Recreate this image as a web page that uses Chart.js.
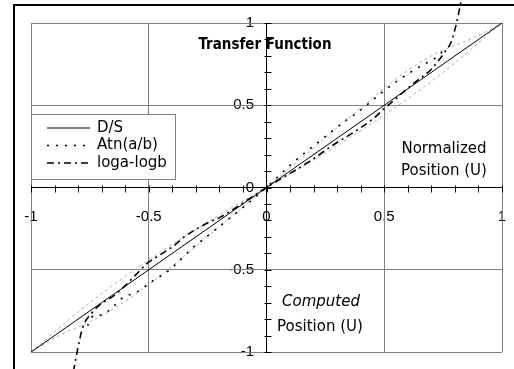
<!DOCTYPE html>
<html>
<head>
<meta charset="utf-8">
<title>Transfer Function</title>
<script src="https://cdn.jsdelivr.net/npm/chart.js@4/dist/chart.umd.min.js"></script>
<style>
	html, body { margin: 0; padding: 0; background: #fff; }
	#wrap { width: 514px; height: 369px; }
</style>
</head>
<body>
<div id="wrap"><canvas id="transferChart" width="514" height="369"></canvas></div>
<script>
// axis ticks
const tickValues = [-1, -0.5, 0, 0.5, 1];
const tickLabels = ['-1', '-0.5', '0', '0.5', '1'];

// D/S
const dsX = [-1, 1];
const dsY = [-1, 1];

// Atn(a/b)
const atnX = [-0.76, -0.736, -0.70, -0.655, -0.61, -0.55, -0.48, -0.42, -0.30, -0.255, -0.16, -0.09, 0, 0.10, 0.25, 0.33, 0.39, 0.45, 0.50, 0.65, 0.72, 0.75];
const atnY = [-0.84, -0.78, -0.775, -0.73, -0.67, -0.635, -0.565, -0.51, -0.35, -0.30, -0.19, -0.11, 0, 0.135, 0.31, 0.40, 0.46, 0.53, 0.59, 0.735, 0.79, 0.83];

// loga-logb
const logX = [-0.82, -0.80, -0.78, -0.74, -0.70, -0.65, -0.61, -0.557, -0.506, -0.447, -0.396, -0.345, -0.247, -0.196, 0, 0.18, 0.285, 0.375, 0.455, 0.50, 0.55, 0.583, 0.634, 0.698, 0.73, 0.76, 0.783, 0.80, 0.813, 0.83];
const logY = [-1.12, -0.97, -0.85, -0.76, -0.705, -0.66, -0.61, -0.534, -0.46, -0.405, -0.357, -0.296, -0.213, -0.18, 0, 0.156, 0.26, 0.34, 0.42, 0.48, 0.54, 0.583, 0.643, 0.716, 0.77, 0.83, 0.88, 0.96, 1.04, 1.16];

// reference curves (grey, not in legend)
const refAX = [-1, -0.88, -0.70, -0.50, -0.42, -0.08, 0, 0.43, 0.53, 0.70, 0.91, 1];
const refAY = [-1, -0.90, -0.78, -0.59, -0.50, -0.095, 0, 0.52, 0.64, 0.80, 0.93, 1];
const refBX = [-1, -0.75, -0.50, -0.25, 0, 0.25, 0.50, 0.75, 1];
const refBY = [-1, -0.70, -0.44, -0.21, 0, 0.21, 0.44, 0.70, 1];

const toPoints = (xs, ys) => xs.map((x, i) => ({ x: x, y: ys[i] }));

const tickFont = { family: '"Liberation Sans", Arial, sans-serif', size: 15 };
const textFont = '"DejaVu Sans", "Noto Sans", sans-serif';

function isMajor(v) {
	return tickValues.some(t => Math.abs(t - v) < 1e-9);
}

function labelFor(v) {
	const i = tickValues.findIndex(t => Math.abs(t - v) < 1e-9);
	return i >= 0 ? tickLabels[i] : '';
}

function gridColor(ctx) {
	if (!ctx.tick) return 'transparent';
	const v = ctx.tick.value;
	if (Math.abs(v) < 1e-9) return '#000';
	return isMajor(v) ? '#808080' : 'transparent';
}

// frame, cross-shaped tick marks, title, notes and legend box
const decorations = {
	id: 'decorations',
	beforeDraw(chart) {
		const ctx = chart.ctx;
		ctx.save();
		ctx.fillStyle = '#fff';
		ctx.fillRect(0, 0, chart.width, chart.height);
		ctx.strokeStyle = '#000';
		ctx.lineWidth = 2;
		ctx.strokeRect(14, 5, 700, 700);
		ctx.restore();
	},
	afterDraw(chart) {
		const ctx = chart.ctx;
		const xs = chart.scales.x;
		const ys = chart.scales.y;
		const x0 = Math.round(xs.getPixelForValue(0)) + 0.5;
		const y0 = Math.round(ys.getPixelForValue(0)) + 0.5;

		ctx.save();
		ctx.strokeStyle = '#000';
		ctx.lineWidth = 1;
		ctx.beginPath();
		xs.ticks.forEach(t => {
			const px = Math.round(xs.getPixelForValue(t.value)) + 0.5;
			ctx.moveTo(px, y0 - 3);
			ctx.lineTo(px, y0 + 4);
		});
		ys.ticks.forEach(t => {
			const py = Math.round(ys.getPixelForValue(t.value)) + 0.5;
			ctx.moveTo(x0 - 3, py);
			ctx.lineTo(x0 + 4, py);
		});
		ctx.stroke();

		ctx.fillStyle = '#000';
		ctx.textBaseline = 'middle';
		ctx.textAlign = 'center';
		ctx.font = 'bold 15px "DejaVu Sans Condensed", ' + textFont;
		ctx.fillText('Transfer Function', 265, 45);

		ctx.font = '15px ' + textFont;
		ctx.fillText('Normalized', 444, 149);
		ctx.fillText('Position (U)', 444, 171);
		ctx.fillText('Position (U)', 320, 327);
		ctx.font = 'italic 15px ' + textFont;
		ctx.fillText('Computed', 321, 302);

		// legend
		ctx.fillStyle = '#fff';
		ctx.fillRect(31.5, 114.5, 144, 65);
		ctx.strokeStyle = '#808080';
		ctx.strokeRect(31.5, 114.5, 144, 65);
		const rows = [128, 145.5, 163];
		chart.data.datasets.slice(0, 3).forEach((ds, i) => {
			ctx.strokeStyle = ds.borderColor;
			ctx.lineWidth = ds.borderWidth;
			ctx.setLineDash(ds.borderDash || []);
			ctx.beginPath();
			ctx.moveTo(47, rows[i]);
			ctx.lineTo(90, rows[i]);
			ctx.stroke();
			ctx.setLineDash([]);
			ctx.fillStyle = '#000';
			ctx.textAlign = 'left';
			ctx.font = '15px ' + textFont;
			ctx.fillText(ds.label, 97, rows[i]);
		});
		ctx.restore();
	}
};

const lineBase = {
	showLine: true,
	pointRadius: 0,
	pointHoverRadius: 0,
	fill: false,
	cubicInterpolationMode: 'monotone'
};

const data = {
	datasets: [
		{ ...lineBase, label: 'D/S', data: toPoints(dsX, dsY), borderColor: '#000', borderWidth: 1, borderDash: [] },
		{ ...lineBase, label: 'Atn(a/b)', data: toPoints(atnX, atnY), borderColor: '#000', borderWidth: 1.6, borderDash: [2, 7] },
		{ ...lineBase, label: 'loga-logb', data: toPoints(logX, logY), borderColor: '#000', borderWidth: 1.6, borderDash: [7, 4, 2, 4], clip: false },
		{ ...lineBase, label: 'refA', data: toPoints(refAX, refAY), borderColor: '#b0b0b0', borderWidth: 1, borderDash: [3, 3] },
		{ ...lineBase, label: 'refB', data: toPoints(refBX, refBY), borderColor: '#b0b0b0', borderWidth: 1, borderDash: [3, 3] }
	]
};

const config = {
	type: 'scatter',
	data: data,
	options: {
		responsive: false,
		animation: false,
		layout: {
			padding: { left: 31, top: 23, right: 12, bottom: 17 }
		},
		plugins: {
			legend: { display: false },
			tooltip: { enabled: false },
			title: { display: false }
		},
		scales: {
			x: {
				type: 'linear',
				min: -1,
				max: 1,
				position: { y: 0 },
				afterFit: scale => {
					scale.height = 0;
					scale.paddingLeft = 0;
					scale.paddingRight = 0;
				},
				border: { display: true, color: '#000', width: 1 },
				grid: { color: gridColor, lineWidth: 1, drawTicks: false, z: -1 },
				ticks: {
					stepSize: 0.1,
					autoSkip: false,
					maxRotation: 0,
					minRotation: 0,
					padding: 20,
					color: '#000',
					font: tickFont,
					z: -2,
					callback: value => labelFor(value)
				}
			},
			y: {
				type: 'linear',
				min: -1,
				max: 1,
				position: { x: 0 },
				afterFit: scale => {
					scale.width = 0;
					scale.paddingTop = 0;
					scale.paddingBottom = 0;
				},
				border: { display: true, color: '#000', width: 1 },
				grid: { color: gridColor, lineWidth: 1, drawTicks: false, z: -1 },
				ticks: {
					stepSize: 0.1,
					autoSkip: false,
					color: '#000',
					font: tickFont,
					z: -2,
					// labels sit right-aligned on the axis line, trailing spaces keep them clear of it
					callback: value => {
						const label = labelFor(value);
						return label ? label + '   ' : '';
					}
				}
			}
		}
	},
	plugins: [decorations]
};

new Chart(document.getElementById('transferChart'), config);
</script>
</body>
</html>
